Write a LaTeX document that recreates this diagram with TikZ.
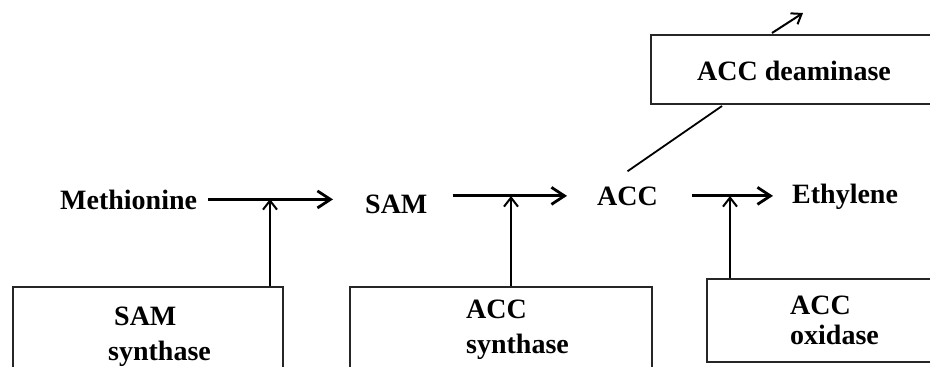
\documentclass[tikz,border=0pt]{standalone}
\usepackage{fontspec}
\setmainfont{Liberation Serif}
\usetikzlibrary{arrows.meta}

\begin{document}
\begin{tikzpicture}[x=1pt, y=-1pt,
    every node/.style={font=\bfseries\fontsize{28}{35}\selectfont, inner sep=0pt},
    chem/.style={anchor=base west},
    enz/.style={draw=black!85, line width=1.6pt, anchor=north west},
    lbl/.style={anchor=north west, align=left},
    flow/.style={line width=3pt, -{Straight Barb[length=13pt, width=17pt, line width=2.8pt]}},
    ctrl/.style={line width=2pt, -{Straight Barb[length=9pt, width=14pt, line width=2pt]}}]
  \useasboundingbox (0,0) rectangle (930,367);
  \clip (0,0) rectangle (930,367);

  % Pathway
  \node[chem] (met) at (60,209)  {Methionine};
  \node[chem] (sam) at (365,213) {SAM};
  \node[chem] (acc) at (597,205) {ACC};
  \node[chem] (eth) at (792,203) {Ethylene};

  \draw[flow, shorten <=11pt, shorten >=32pt] (met.east) -- (met.east -| sam.west);
  \draw[flow, shorten <=25pt, shorten >=30pt] (sam.east |- acc.east) -- (acc.west);
  \draw[flow, shorten <=34pt, shorten >=19pt] (acc.east) -- (acc.east -| eth.west);

  % Enzyme boxes
  \node[enz, minimum width=270pt, minimum height=120pt] (samsyn) at (12,286)  {};
  \node[enz, minimum width=302pt, minimum height=120pt] (accsyn) at (349,286) {};
  \node[enz, minimum width=260pt, minimum height=83pt]  (accox)  at (706,278) {};
  \node[enz, minimum width=300pt, minimum height=69pt]  (deam)   at (650,34)  {};

  \node[lbl] (samsynt) at (108,307) {\hspace*{6pt}SAM\\synthase};
  \node[lbl] (accsynt) at (466,300) {ACC\\synthase};
  \node[lbl, font=\bfseries\fontsize{28}{30}\selectfont] (accoxt) at (790,296) {ACC\\oxidase};
  \node[chem] (deamt) at (697,80) {ACC deaminase};

  % Enzymes acting on the steps
  \coordinate (j1) at (270,199);
  \coordinate (j2) at (511,196);
  \coordinate (j3) at (730,196);
  \draw[ctrl] (j1 |- samsyn.north) -- (j1);
  \draw[ctrl] (j2 |- accsyn.north) -- (j2);
  \draw[ctrl] (j3 |- accox.north)  -- (j3);

  % ACC broken down by the deaminase
  \coordinate (d1) at (722,106);
  \coordinate (d2) at (772,33);
  \coordinate (d3) at (803,13);
  \draw[line width=1.8pt] ([yshift=15pt]acc.north) -- (d1);
  \draw[ctrl, -{Straight Barb[length=9pt, width=13pt, line width=2pt]}] (d2) -- (d3);
\end{tikzpicture}
\end{document}
